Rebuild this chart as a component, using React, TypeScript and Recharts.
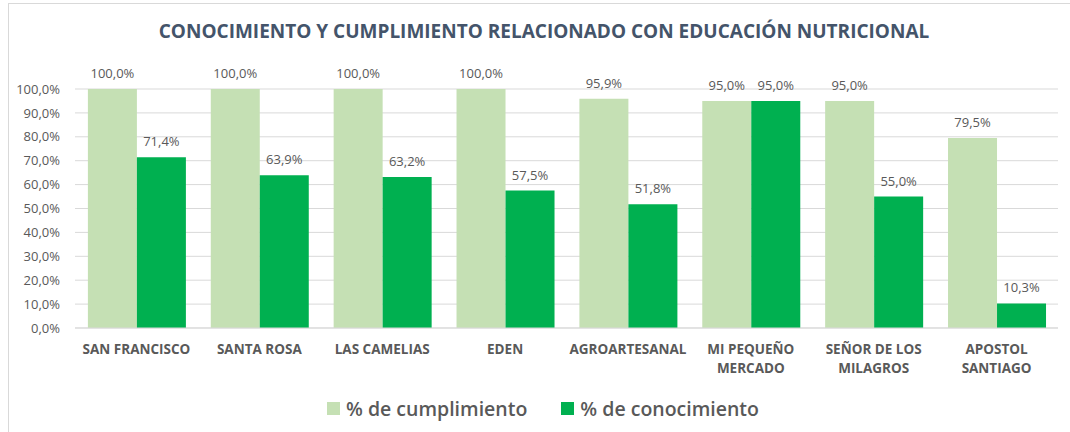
import { BarChart, Bar, XAxis, YAxis, CartesianGrid, LabelList, Legend } from 'recharts';

const categorias = [
  'SAN FRANCISCO',
  'SANTA ROSA',
  'LAS CAMELIAS',
  'EDEN',
  'AGROARTESANAL',
  'MI PEQUEÑO\nMERCADO',
  'SEÑOR DE LOS\nMILAGROS',
  'APOSTOL\nSANTIAGO',
];
const cumplimiento = [100, 100, 100, 100, 95.9, 95.0, 95.0, 79.5];
const conocimiento = [71.4, 63.9, 63.2, 57.5, 51.8, 95.0, 55.0, 10.3];
const ticksY = [0, 10, 20, 30, 40, 50, 60, 70, 80, 90, 100];

const datos = categorias.map((nombre, i) => ({
  nombre,
  cumplimiento: cumplimiento[i],
  conocimiento: conocimiento[i],
}));

const COLOR_CLARO = '#c5e0b4';
const COLOR_OSCURO = '#00b050';
const GRIS = '#595959';
const FUENTE = '"Open Sans", "Noto Sans", sans-serif';

const formatoPct = (v: number) => v.toFixed(1).replace('.', ',') + '%';

function TickCategoria({ x, y, payload }: any) {
  const lineas = String(payload.value).split('\n');
  return (
    <text x={x} y={y + 18} textAnchor="middle" fill={GRIS} fontSize={13.5} fontWeight={700} fontFamily={FUENTE}>
      {lineas.map((l, i) => (
        <tspan key={i} x={x} dy={i === 0 ? 0 : 19}>
          {l}
        </tspan>
      ))}
    </text>
  );
}

function Leyenda() {
  const item = (color: string, texto: string) => (
    <div style={{ display: 'flex', alignItems: 'center', gap: 6 }}>
      <div style={{ width: 13, height: 13, background: color }} />
      <span style={{ fontSize: 19.5, fontWeight: 600, color: GRIS, fontFamily: FUENTE }}>{texto}</span>
    </div>
  );
  return (
    <div style={{ display: 'flex', justifyContent: 'center', gap: 34, paddingLeft: 28, paddingTop: 7 }}>
      {item(COLOR_CLARO, '% de cumplimiento')}
      {item(COLOR_OSCURO, '% de conocimiento')}
    </div>
  );
}

export default function App() {
  return (
    <div style={{ position: 'absolute', left: 0, top: 0, width: 1070, height: 432, background: '#fff' }}>
      <div
        style={{
          position: 'absolute',
          left: 8,
          top: 3,
          width: 1070,
          height: 440,
          borderLeft: '1px solid #d9d9d9',
          borderTop: '1px solid #d9d9d9',
        }}
      />
      <div
        style={{
          position: 'absolute',
          top: 18,
          left: 0,
          width: 1088,
          textAlign: 'center',
          fontFamily: FUENTE,
          fontWeight: 700,
          fontSize: 19,
          color: '#44546a',
        }}
      >
        CONOCIMIENTO Y CUMPLIMIENTO RELACIONADO CON EDUCACIÓN NUTRICIONAL
      </div>
      <div style={{ position: 'absolute', left: 0, top: 0 }}>
        <BarChart
          width={1070}
          height={432}
          data={datos}
          margin={{ top: 89, right: 12, left: 0, bottom: 0 }}
          barCategoryGap="10.5%"
          barGap={0}
        >
          <CartesianGrid vertical={false} stroke="#d9d9d9" />
          <YAxis
            domain={[0, 100]}
            ticks={ticksY}
            tickFormatter={formatoPct}
            width={75}
            axisLine={false}
            tickLine={false}
            tick={{ fill: GRIS, fontSize: 13, fontFamily: FUENTE }}
            tickMargin={9}
          />
          <XAxis
            dataKey="nombre"
            interval={0}
            height={60}
            axisLine={{ stroke: '#d9d9d9' }}
            tickLine={false}
            tick={<TickCategoria />}
          />
          <Legend verticalAlign="bottom" height={44} content={() => <Leyenda />} />
          <Bar dataKey="cumplimiento" fill={COLOR_CLARO} isAnimationActive={false}>
            <LabelList
              dataKey="cumplimiento"
              position="top"
              offset={11}
              formatter={(v: any) => formatoPct(Number(v))}
              style={{ fill: GRIS, fontSize: 13, fontFamily: FUENTE }}
            />
          </Bar>
          <Bar dataKey="conocimiento" fill={COLOR_OSCURO} isAnimationActive={false}>
            <LabelList
              dataKey="conocimiento"
              position="top"
              offset={11}
              formatter={(v: any) => formatoPct(Number(v))}
              style={{ fill: GRIS, fontSize: 13, fontFamily: FUENTE }}
            />
          </Bar>
        </BarChart>
      </div>
    </div>
  );
}
